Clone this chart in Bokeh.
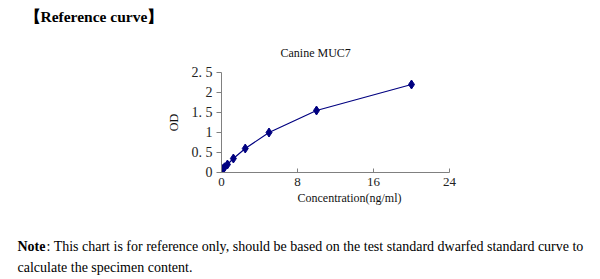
from bokeh.plotting import figure
from bokeh.models import FixedTicker, Range1d, Title
from bokeh.layouts import column, row
from bokeh.core.properties import value
from bokeh.embed import file_html
from bokeh.resources import INLINE

# Data
conc = [0, 0.156, 0.3125, 0.625, 1.25, 2.5, 5, 10, 20]
od = [0.04, 0.09, 0.13, 0.2, 0.35, 0.6, 1.0, 1.55, 2.2]
x_ticks = [0, 8, 16, 24]
y_ticks = [0, 0.5, 1, 1.5, 2, 2.5]
y_tick_labels = {0: "0", 0.5: "0. 5", 1: "1", 1.5: "1. 5", 2: "2", 2.5: "2. 5"}
title_text = "Canine MUC7"
x_label = "Concentration(ng/ml)"
y_label = "OD"
heading = "【Reference curve】"
note_bold = "Note"
note_line1 = ": This chart is for reference only, should be based on the test standard dwarfed standard curve to"
note_line2 = "calculate the specimen content."

NAVY = "#000080"
SERIF = "Liberation Serif"
W = 600


def text_fig(h):
    f = figure(width=W, height=h, output_backend="svg", toolbar_location=None,
               x_axis_location=None, y_axis_location=None,
               x_range=Range1d(0, W), y_range=Range1d(h, 0),
               min_border_left=0, min_border_right=0,
               min_border_top=0, min_border_bottom=0)
    f.grid.visible = False
    f.outline_line_color = None
    return f


# Heading strip (0..30 px)
top = text_fig(30)
top.text(x=[24], y=[16], text=[heading], text_font=value(SERIF), text_font_size="15.5px",
         text_font_style="bold", text_baseline="middle", text_color="#000000")

# Chart (30..215 px)
CH = 185
p = figure(width=W, height=CH, output_backend="svg", toolbar_location=None,
           x_range=Range1d(0, 24), y_range=Range1d(0, 2.5),
           min_border_left=221, min_border_right=151, min_border_top=42, min_border_bottom=43)
p.outline_line_color = None
p.grid.grid_line_color = None

for ax in (p.xaxis[0], p.yaxis[0]):
    ax.axis_line_color = "#808080"
    ax.major_tick_line_color = "#808080"
    ax.minor_tick_line_color = None
    ax.major_label_text_font = SERIF
    ax.major_label_text_color = "#222222"
    ax.major_label_text_font_size = "14px"
    ax.axis_label_text_font = SERIF
    ax.axis_label_text_font_style = "normal"
    ax.axis_label_text_font_size = "12px"
    ax.axis_label_text_color = "#111111"

p.xaxis[0].ticker = FixedTicker(ticks=x_ticks)
p.xaxis[0].major_tick_in = 4
p.xaxis[0].major_tick_out = 0
p.xaxis[0].major_label_standoff = 5
p.xaxis[0].major_label_text_font_size = "13px"

p.yaxis[0].ticker = FixedTicker(ticks=y_ticks)
p.yaxis[0].major_label_overrides = y_tick_labels
p.yaxis[0].major_tick_in = 0
p.yaxis[0].major_tick_out = 5
p.yaxis[0].major_label_standoff = 4
p.yaxis[0].axis_label = y_label
p.yaxis[0].axis_label_standoff = 8

p.add_layout(Title(text=title_text, align="left", offset=59, text_font=SERIF,
                   text_font_size="12px", text_font_style="normal", text_color="#111111",
                   standoff=26), "above")
p.add_layout(Title(text=x_label, align="left", offset=76, text_font=SERIF,
                   text_font_size="12px", text_font_style="normal", text_color="#111111",
                   standoff=0), "below")

p.line(conc, od, line_color=NAVY, line_width=1.2)
p.scatter(conc, od, marker="diamond", size=9, fill_color=NAVY, line_color=NAVY)

# Notes strip (215..279 px)
NH = 64
bot = text_fig(NH)
bot.text(x=[17], y=[31], text=[note_bold], text_font=value(SERIF), text_font_size="14px",
         text_font_style="bold", text_baseline="middle", text_color="#000000")
bot.text(x=[46], y=[31], text=[note_line1], text_font=value(SERIF), text_font_size="14px",
         text_baseline="middle", text_color="#000000")
bot.text(x=[17], y=[52], text=[note_line2], text_font=value(SERIF), text_font_size="14px",
         text_baseline="middle", text_color="#000000")

layout = column(row(top), row(p), row(bot), spacing=0)
open("out.html", "w").write(file_html(layout, INLINE))
